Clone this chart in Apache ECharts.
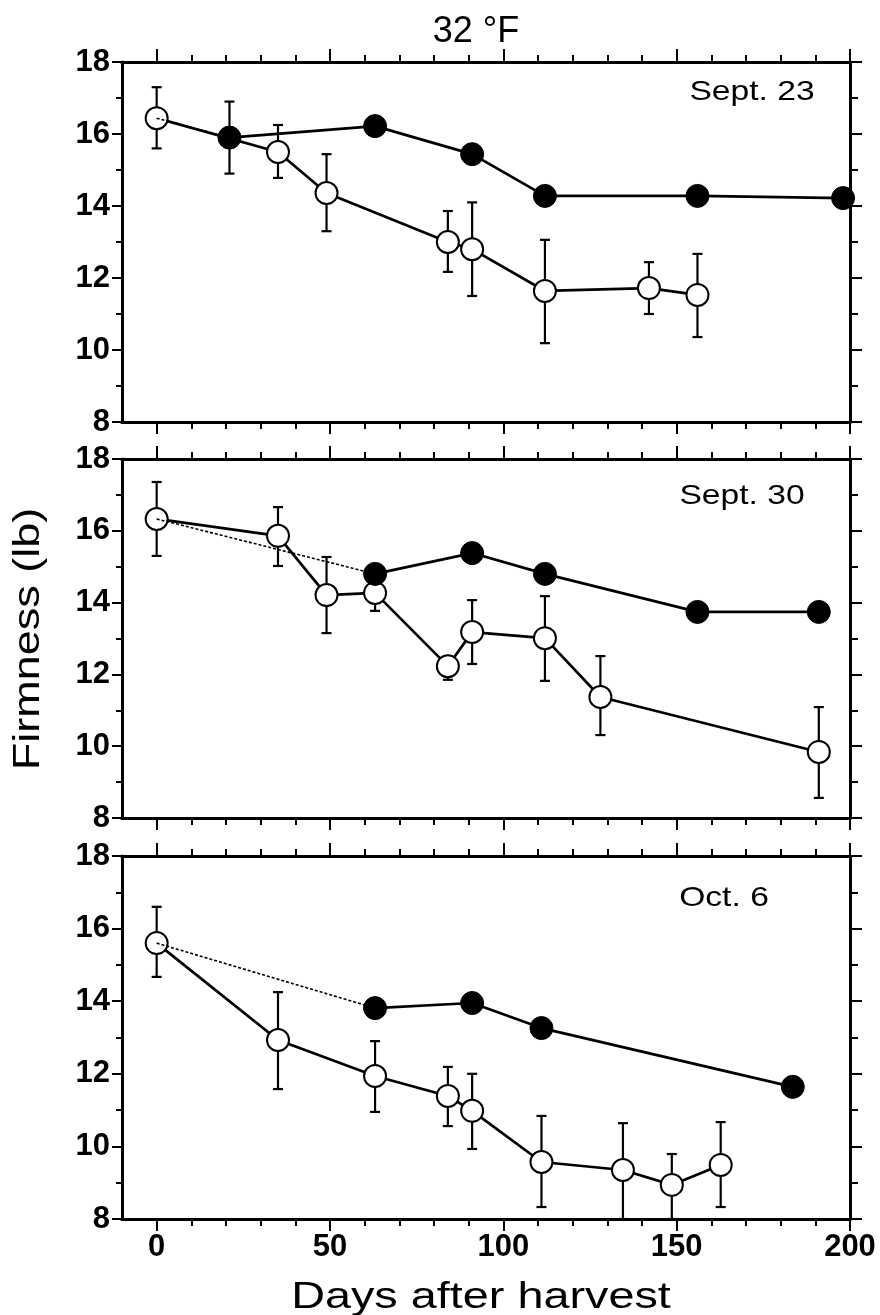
<!DOCTYPE html>
<html>
<head>
<meta charset="utf-8">
<script src="https://cdn.jsdelivr.net/npm/echarts@6/dist/echarts.min.js"></script>
<style>
  html, body { margin: 0; padding: 0; background: #fff; }
  #chart { width: 880px; height: 1315px; }
</style>
</head>
<body>
<div id="chart"></div>
<script>
// tick labels
var xTicks = [0, 50, 100, 150, 200];
var xMinorTicks = [0, 10, 20, 30, 40, 50, 60, 70, 80, 90, 100, 110, 120, 130, 140, 150, 160, 170, 180, 190, 200];
var yTicks = [8, 10, 12, 14, 16, 18];

// Sept. 23
var sep23OpenDays = [0, 35, 49, 84, 91, 112, 142, 156];
var sep23OpenVals = [16.44, 15.5, 14.36, 13.0, 12.8, 11.64, 11.72, 11.53];
var sep23OpenLow  = [15.6, 14.78, 13.3, 12.17, 11.5, 10.19, 11.0, 10.36];
var sep23OpenHigh = [17.3, 16.25, 15.44, 13.86, 14.1, 13.06, 12.44, 12.67];
var sep23FilledDays = [21, 63, 91, 112, 156, 198];
var sep23FilledVals = [15.9, 16.22, 15.44, 14.28, 14.28, 14.22];
var sep23FilledLow  = [14.9, null, null, null, null, null];
var sep23FilledHigh = [16.9, null, null, null, null, null];

// Sept. 30
var sep30OpenDays = [0, 35, 49, 63, 84, 91, 112, 128, 191];
var sep30OpenVals = [16.33, 15.86, 14.21, 14.27, 12.23, 13.18, 13.01, 11.37, 9.84];
var sep30OpenLow  = [15.3, 15.02, 13.15, 13.77, 11.85, 12.29, 11.82, 10.31, 8.56];
var sep30OpenHigh = [17.36, 16.66, 15.27, 14.77, 12.5, 14.07, 14.18, 12.51, 11.09];
var sep30FilledDays = [63, 91, 112, 156, 191];
var sep30FilledVals = [14.8, 15.38, 14.8, 13.74, 13.74];

// Oct. 6
var oct6OpenDays = [0, 35, 63, 84, 91, 111, 134.5, 148.6, 162.7];
var oct6OpenVals = [15.6, 12.93, 11.94, 11.39, 10.98, 9.57, 9.35, 8.94, 9.49];
var oct6OpenLow  = [14.67, 11.58, 10.95, 10.56, 9.93, 8.33, 8.0, 8.0, 8.33];
var oct6OpenHigh = [16.6, 14.25, 12.9, 12.19, 12.0, 10.84, 10.64, 9.79, 10.67];
var oct6FilledDays = [63, 91, 111, 183.5];
var oct6FilledVals = [13.81, 13.95, 13.26, 11.64];

var FONT = "'Liberation Sans', Arial, Helvetica, sans-serif";
var BLACK = '#000';

var panels = [
  { top: 62, height: 360,
    openDays: sep23OpenDays, openVals: sep23OpenVals, openLow: sep23OpenLow, openHigh: sep23OpenHigh,
    filledDays: sep23FilledDays, filledVals: sep23FilledVals, filledLow: sep23FilledLow, filledHigh: sep23FilledHigh },
  { top: 459, height: 359,
    openDays: sep30OpenDays, openVals: sep30OpenVals, openLow: sep30OpenLow, openHigh: sep30OpenHigh,
    filledDays: sep30FilledDays, filledVals: sep30FilledVals },
  { top: 856, height: 363,
    openDays: oct6OpenDays, openVals: oct6OpenVals, openLow: oct6OpenLow, openHigh: oct6OpenHigh,
    filledDays: oct6FilledDays, filledVals: oct6FilledVals }
];

function zip(a, b) {
  var out = [];
  for (var i = 0; i < a.length; i++) out.push([a[i], b[i]]);
  return out;
}

function errBars(days, low, high) {
  var out = [];
  if (!low) return out;
  for (var i = 0; i < days.length; i++) {
    if (low[i] != null) out.push([days[i], low[i], high[i]]);
  }
  return out;
}

function renderErr(params, api) {
  var x = api.value(0);
  var top = api.coord([x, api.value(2)]);
  var bot = api.coord([x, api.value(1)]);
  var w = 5;
  var st = { stroke: BLACK, lineWidth: 2.2 };
  return {
    type: 'group',
    children: [
      { type: 'line', shape: { x1: top[0], y1: top[1], x2: bot[0], y2: bot[1] }, style: st },
      { type: 'line', shape: { x1: top[0] - w, y1: top[1], x2: top[0] + w, y2: top[1] }, style: st },
      { type: 'line', shape: { x1: bot[0] - w, y1: bot[1], x2: bot[0] + w, y2: bot[1] }, style: st }
    ]
  };
}

function xAxisDef(gridIndex, position, tickValues, tickLen, showLabels) {
  return {
    type: 'value', gridIndex: gridIndex, position: position,
    min: -10, max: 200,
    axisLine: { show: true, onZero: false, lineStyle: { color: BLACK, width: 3 } },
    axisTick: { show: true, inside: false, length: tickLen, customValues: tickValues,
                lineStyle: { color: BLACK, width: 2 } },
    axisLabel: showLabels
      ? { show: true, customValues: xTicks, margin: 13, color: BLACK, fontSize: 31,
          fontWeight: 'bold', fontFamily: FONT }
      : { show: false },
    splitLine: { show: false }
  };
}

function yAxisDef(gridIndex, position, majorLen, minorLen, showLabels) {
  return {
    type: 'value', gridIndex: gridIndex, position: position,
    min: yTicks[0], max: yTicks[yTicks.length - 1], interval: yTicks[1] - yTicks[0],
    axisLine: { show: true, onZero: false, lineStyle: { color: BLACK, width: 3 } },
    axisTick: { show: true, inside: false, length: majorLen, lineStyle: { color: BLACK, width: 2 } },
    minorTick: { show: true, splitNumber: 2, length: minorLen, lineStyle: { color: BLACK, width: 2 } },
    axisLabel: showLabels
      ? { show: true, margin: 12, color: BLACK, fontSize: 31, fontWeight: 'bold', fontFamily: FONT }
      : { show: false },
    splitLine: { show: false },
    minorSplitLine: { show: false }
  };
}

var grids = [], xAxes = [], yAxes = [], series = [];

panels.forEach(function (p, i) {
  grids.push({ left: 122, top: p.top, width: 728, height: p.height, outerBoundsMode: 'none' });
  var xi = xAxes.length;
  xAxes.push(xAxisDef(i, 'bottom', xMinorTicks, 7, i === panels.length - 1));
  xAxes.push(xAxisDef(i, 'bottom', xTicks, 12, false));
  xAxes.push(xAxisDef(i, 'top', xMinorTicks, 7, false));
  xAxes.push(xAxisDef(i, 'top', xTicks, 13, false));
  var yi = yAxes.length;
  yAxes.push(yAxisDef(i, 'left', 10, 6, true));
  yAxes.push(yAxisDef(i, 'right', 12, 8, false));

  series.push({
    type: 'custom', xAxisIndex: xi, yAxisIndex: yi, z: 1, silent: true, clip: false,
    renderItem: renderErr,
    encode: { x: 0, y: [1, 2] },
    data: errBars(p.openDays, p.openLow, p.openHigh).concat(errBars(p.filledDays, p.filledLow, p.filledHigh))
  });
  series.push({
    type: 'line', xAxisIndex: xi, yAxisIndex: yi, z: 2, silent: true, clip: false,
    data: zip(p.openDays, p.openVals),
    symbol: 'circle', symbolSize: 22,
    itemStyle: { color: '#fff', borderColor: BLACK, borderWidth: 2 },
    lineStyle: { color: BLACK, width: 2.7 }
  });
  series.push({
    type: 'line', xAxisIndex: xi, yAxisIndex: yi, z: 3, silent: true, clip: false,
    data: [[p.openDays[0], p.openVals[0]], [p.filledDays[0], p.filledVals[0]]],
    symbol: 'none',
    lineStyle: { color: BLACK, width: 1.6, type: [3, 2] }
  });
  series.push({
    type: 'line', xAxisIndex: xi, yAxisIndex: yi, z: 4, silent: true, clip: false,
    data: zip(p.filledDays, p.filledVals),
    symbol: 'circle', symbolSize: 23,
    itemStyle: { color: BLACK, borderColor: BLACK, borderWidth: 1 },
    lineStyle: { color: BLACK, width: 2.7 }
  });
});

function label(text, x, y, size, sx, rot) {
  return {
    type: 'text', x: x, y: y, rotation: rot || 0, scaleX: sx || 1, scaleY: 1,
    silent: true,
    style: {
      text: text, x: 0, y: 0, fill: BLACK,
      font: 'normal ' + size + 'px ' + FONT,
      align: 'center', verticalAlign: 'middle',
      textAlign: 'center', textVerticalAlign: 'middle'
    }
  };
}

var myChart = echarts.init(document.getElementById('chart'), null, { renderer: 'canvas' });

var option = {
  animation: false,
  backgroundColor: '#fff',
  grid: grids,
  xAxis: xAxes,
  yAxis: yAxes,
  series: series,
  graphic: [
    label('32 °F', 476, 32, 36, 1),
    label('Sept. 23', 752, 92, 28, 1.2),
    label('Sept. 30', 742, 496, 28, 1.2),
    label('Oct. 6', 724, 898, 28, 1.2),
    label('Days after harvest', 481, 1298, 36, 1.3),
    label('Firmness (lb)', 29, 639, 36, 1.25, Math.PI / 2)
  ]
};

myChart.setOption(option);
</script>
</body>
</html>
